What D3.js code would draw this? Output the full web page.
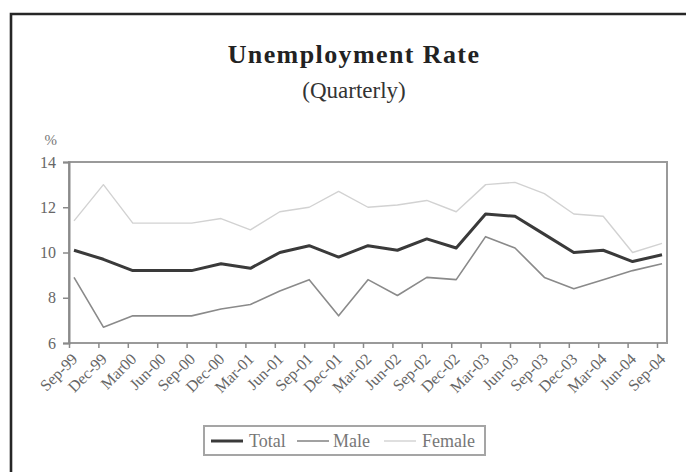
<!DOCTYPE html>
<html>
<head>
<meta charset="utf-8">
<script src="https://cdn.jsdelivr.net/npm/d3@7"></script>
<style>
  html, body { margin: 0; padding: 0; background: #fff; }
  svg { display: block; }
  text { font-family: "Liberation Serif", "Times New Roman", serif; }
</style>
</head>
<body>
<svg id="chart" width="686" height="472"></svg>
<script>
// Quarterly unemployment rate, Sep-99 to Sep-04 (%)
const quarters = ["Sep-99","Dec-99","Mar00","Jun-00","Sep-00","Dec-00","Mar-01","Jun-01","Sep-01","Dec-01",
                  "Mar-02","Jun-02","Sep-02","Dec-02","Mar-03","Jun-03","Sep-03","Dec-03","Mar-04","Jun-04","Sep-04"];
const total  = [10.1, 9.7, 9.2, 9.2, 9.2, 9.5, 9.3, 10.0, 10.3, 9.8, 10.3, 10.1, 10.6, 10.2, 11.7, 11.6, 10.8, 10.0, 10.1, 9.6, 9.9];
const male   = [8.9, 6.7, 7.2, 7.2, 7.2, 7.5, 7.7, 8.3, 8.8, 7.2, 8.8, 8.1, 8.9, 8.8, 10.7, 10.2, 8.9, 8.4, 8.8, 9.2, 9.5];
const female = [11.4, 13.0, 11.3, 11.3, 11.3, 11.5, 11.0, 11.8, 12.0, 12.7, 12.0, 12.1, 12.3, 11.8, 13.0, 13.1, 12.6, 11.7, 11.6, 10.0, 10.4];
const yTicks = [6, 8, 10, 12, 14];

const seriesNames  = ["Total", "Male", "Female"];
const seriesValues = [total, male, female];
const seriesColors = ["#3a3a3a", "#8a8a8a", "#d2d2d2"];
const seriesWidths = [3, 1.6, 1.4];

const svg = d3.select("#chart");

// outer chart border (open to the right and bottom)
svg.append("path")
  .attr("d", "M11,472 L11,14 L686,14")
  .attr("fill", "none").attr("stroke", "#262626").attr("stroke-width", 2.6);

// titles
svg.append("text").attr("x", 354).attr("y", 63)
  .attr("text-anchor", "middle").attr("font-size", 26).attr("font-weight", "bold")
  .attr("letter-spacing", 1.4).attr("fill", "#222").text("Unemployment Rate");
svg.append("text").attr("x", 354).attr("y", 98)
  .attr("text-anchor", "middle").attr("font-size", 23)
  .attr("fill", "#333").text("(Quarterly)");

// plot frame
const plotLeft = 69, plotRight = 667, plotTop = 162, plotBottom = 343;
const x = d3.scalePoint().domain(quarters).range([74, 662]);
const y = d3.scaleLinear().domain([6, 14]).range([plotBottom, plotTop]);

svg.append("rect").attr("x", plotLeft).attr("y", plotTop)
  .attr("width", plotRight - plotLeft).attr("height", plotBottom - plotTop)
  .attr("fill", "none").attr("stroke", "#9a9a9a").attr("stroke-width", 2);

// y axis
const yAxis = svg.append("g").attr("transform", `translate(${plotLeft},0)`)
  .call(d3.axisLeft(y).tickValues(yTicks).tickSize(6).tickPadding(7).tickFormat(d3.format("d")));
yAxis.select(".domain").attr("stroke", "#8a8a8a").attr("stroke-width", 2);
yAxis.selectAll(".tick line").attr("stroke", "#8a8a8a").attr("stroke-width", 1.5);
yAxis.selectAll(".tick text").attr("font-size", 16).attr("fill", "#666")
  .attr("font-family", "Liberation Serif, serif");

svg.append("text").attr("x", 57).attr("y", 145).attr("text-anchor", "end")
  .attr("font-size", 15).attr("fill", "#777").text("%");

// x axis, ticks sit a little left of the data points
const xAxis = svg.append("g").attr("transform", `translate(-5,${plotBottom})`)
  .call(d3.axisBottom(x).tickSize(5).tickPadding(4));
xAxis.select(".domain").remove();
xAxis.selectAll(".tick line").attr("stroke", "#8a8a8a").attr("stroke-width", 1.5);
xAxis.selectAll(".tick text")
  .attr("font-size", 16).attr("fill", "#666").attr("font-family", "Liberation Serif, serif")
  .attr("text-anchor", "end").attr("dy", null)
  .attr("transform", "translate(9,17) rotate(-45)")
  .attr("y", 0).attr("x", 0);

// series lines
const line = d3.line().x((d, i) => x(quarters[i])).y(d => y(d));
seriesValues.slice().reverse().forEach((vals, k) => {
  const i = seriesValues.length - 1 - k;
  svg.append("path").datum(vals)
    .attr("fill", "none").attr("stroke", seriesColors[i])
    .attr("stroke-width", seriesWidths[i]).attr("stroke-linejoin", "round")
    .attr("d", line);
});

// legend
const legend = svg.append("g");
legend.append("rect").attr("x", 204).attr("y", 426).attr("width", 281).attr("height", 29)
  .attr("fill", "#fff").attr("stroke", "#a5a5a5").attr("stroke-width", 2);
const legendX = [211, 297, 384];
const textX = [249, 333, 422];
seriesNames.forEach((name, i) => {
  legend.append("line").attr("x1", legendX[i]).attr("x2", legendX[i] + 32)
    .attr("y1", 441).attr("y2", 441)
    .attr("stroke", seriesColors[i]).attr("stroke-width", seriesWidths[i]);
  legend.append("text").attr("x", textX[i]).attr("y", 447)
    .attr("font-size", 18).attr("fill", "#777").text(name);
});
</script>
</body>
</html>
